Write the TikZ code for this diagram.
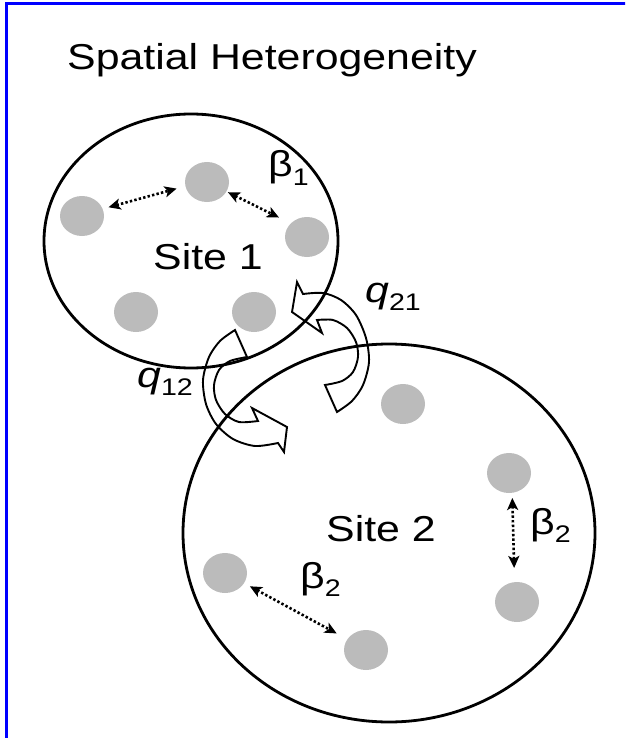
\documentclass[tikz,border=0pt]{standalone}
\usepackage{fontspec}
\setmainfont{Liberation Sans}[FakeStretch=1.19]
\usetikzlibrary{arrows.meta,shapes.geometric}
\definecolor{frameblue}{RGB}{0,0,255}
\definecolor{spotgrey}{RGB}{187,187,187}
\newcommand{\lowsub}[1]{\raisebox{-0.24em}{\fontsize{24}{24}\selectfont #1}}
\tikzset{
  site/.style ={ellipse, draw=black, line width=2.8pt, inner sep=0pt},
  spot/.style ={ellipse, fill=spotgrey, minimum width=44pt, minimum height=40pt, inner sep=0pt},
  dar/.style  ={<->, >={Stealth[length=12pt,width=11pt,inset=3pt]}, line width=2.6pt,
                dash pattern=on 2.4pt off 2.2pt},
  bar/.style  ={draw=black, line width=1.9pt, line join=miter},
  lbl/.style  ={font=\fontsize{36}{40}\selectfont, inner sep=0pt},
}

\begin{document}
\begin{tikzpicture}[x=1pt,y=-1pt]
\useasboundingbox (0,0) rectangle (625,738);
\clip (0,0) rectangle (625,738);
\draw[draw=frameblue, line width=3pt] (6,4) rectangle (660,780);

\node[lbl, anchor=base west] (title) at (67,70) {Spatial Heterogeneity};

% the two sites
\node[site, minimum width=294pt, minimum height=254pt] (site1) at (191,241) {};
\node[site, minimum width=412pt, minimum height=378pt] (site2) at (389,533) {};
\node[lbl, anchor=base] (name1) at (208,269) {Site 1};
\node[lbl, anchor=base] (name2) at (381,541) {Site 2};

% hosts
\foreach \n/\x/\y in {p11/82/216, p12/207/182, p13/307/237, p14/136/312, p15/254/312,
                      p21/403/404, p22/509/473, p23/517/602, p24/225/573, p25/366/650}
  \node[spot] (\n) at (\x,\y) {};

% contacts within a site
\draw[dar, shorten <=6pt, shorten >=9pt] (p11.19) -- (p12.191);
\draw[dar, shorten <=1.5pt, shorten >=13pt] (p12.334) -- (p13.140);
\draw[dar, shorten <=6.5pt, shorten >=12pt] (p24.332) -- (p25.150);
\draw[dar, shorten <=5pt, shorten >=14pt] (p22.279) -- (p23.97);
\node[lbl, anchor=base west] (beta1) at (268,177) {β\lowsub{1}};
\node[lbl, anchor=base west] (beta2a) at (300,588) {β\lowsub{2}};
\node[lbl, anchor=base west] (beta2b) at (530,534) {β\lowsub{2}};

% movement from site 2 to site 1 (q21)
\draw[bar] (337,412) -- plot[smooth] coordinates {(337,412) (352,401) (363,385) (369,362)
  (366,338) (356,315) (341,300) (323,293) (303,294)} -- (297,282) -- (292,312) -- (322,333)
  -- (317,320) -- plot[smooth] coordinates {(317,320) (333,320) (347,328) (356,342) (358,357)
  (353,372) (342,381) (325,385)} -- cycle;
% movement from site 1 to site 2 (q12)
\draw[bar] (235,330) -- plot[smooth] coordinates {(235,330) (220,341) (209,357) (203,380)
  (206,404) (216,424) (233,439) (255,446) (278,443)} -- (284,452) -- (287,427) -- (252,408)
  -- (258,421) -- plot[smooth] coordinates {(258,421) (239,422) (225,414) (216,400) (214,385)
  (219,370) (230,361) (247,357)} -- cycle;
\node[lbl, anchor=base west] (q21) at (365,302) {\itshape q\upshape\lowsub{21}};
\node[lbl, anchor=base west] (q12) at (137,387) {\itshape q\upshape\lowsub{12}};
\end{tikzpicture}
\end{document}
